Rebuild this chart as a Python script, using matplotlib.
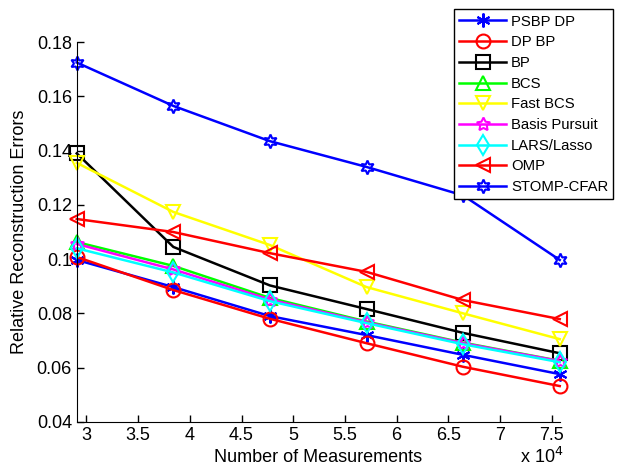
import matplotlib
matplotlib.use("Agg")
import matplotlib.pyplot as plt

plt.rcParams["font.family"] = ["Liberation Sans", "DejaVu Sans"]

# ── Data (x in units of 1e4 measurements) ────────────────────────────────────
measurements = [2.907, 3.841, 4.775, 5.709, 6.643, 7.577]

psbp_dp   = [0.0997, 0.0897, 0.0790, 0.0720, 0.0647, 0.0576]
dp_bp     = [0.1008, 0.0886, 0.0780, 0.0690, 0.0603, 0.0532]
bp        = [0.1390, 0.1045, 0.0903, 0.0816, 0.0728, 0.0653]
bcs       = [0.1063, 0.0975, 0.0857, 0.0770, 0.0692, 0.0625]
fast_bcs  = [0.1355, 0.1174, 0.1052, 0.0897, 0.0800, 0.0705]
basis_pur = [0.1056, 0.0962, 0.0851, 0.0767, 0.0690, 0.0624]
lars      = [0.1040, 0.0951, 0.0845, 0.0764, 0.0686, 0.0620]
omp       = [0.1148, 0.1100, 0.1022, 0.0953, 0.0849, 0.0779]
stomp     = [0.1725, 0.1565, 0.1435, 0.1340, 0.1235, 0.0997]

series = [
    ("PSBP DP",       psbp_dp,   "#0000ff", (6, 2, 0)),
    ("DP BP",         dp_bp,     "#ff0000", "o"),
    ("BP",            bp,        "#000000", "s"),
    ("BCS",           bcs,       "#00ff00", "^"),
    ("Fast BCS",      fast_bcs,  "#ffff00", "v"),
    ("Basis Pursuit", basis_pur, "#ff00ff", (5, 1, 0)),
    ("LARS/Lasso",    lars,      "#00ffff", "d"),
    ("OMP",           omp,       "#ff0000", "<"),
    ("STOMP-CFAR",    stomp,     "#0000ff", (6, 1, 0)),
]

# ── Plot ──────────────────────────────────────────────────────────────────────
fig = plt.figure(figsize=(6.24, 4.74), dpi=100)
ax = fig.add_axes([0.123, 0.110, 0.774, 0.801])

for label, vals, color, marker in series:
    ax.plot(measurements, vals, label=label, color=color, linewidth=1.8,
            marker=marker, markersize=10, markerfacecolor="none",
            markeredgecolor=color, markeredgewidth=1.5, clip_on=False)

ax.set_xlim(2.907, 7.577)
ax.set_ylim(0.04, 0.18)
ax.set_xticks([3, 3.5, 4, 4.5, 5, 5.5, 6, 6.5, 7, 7.5])
ax.set_xticklabels(["3", "3.5", "4", "4.5", "5", "5.5", "6", "6.5", "7", "7.5"])
ax.set_yticks([0.04, 0.06, 0.08, 0.1, 0.12, 0.14, 0.16, 0.18])
ax.set_yticklabels(["0.04", "0.06", "0.08", "0.1", "0.12", "0.14", "0.16", "0.18"])
ax.tick_params(direction="in", labelsize=13, length=5, width=1)
for side in ("top", "right"):
    ax.spines[side].set_visible(False)

ax.set_xlabel("Number of Measurements", fontsize=13, labelpad=4)
ax.set_ylabel("Relative Reconstruction Errors", fontsize=13, labelpad=6)
fig.text(0.868, 0.014, "x 10$^4$", fontsize=13, ha="center", va="bottom")

leg = fig.legend(loc="upper right", bbox_to_anchor=(0.983, 0.98), fontsize=10.7,
                 handlelength=3.2, fancybox=False, framealpha=1,
                 edgecolor="black", borderpad=0.35, labelspacing=0.45,
                 handletextpad=0.3, borderaxespad=0)
leg.get_frame().set_linewidth(1.0)

fig.savefig("out.png", dpi=100)
